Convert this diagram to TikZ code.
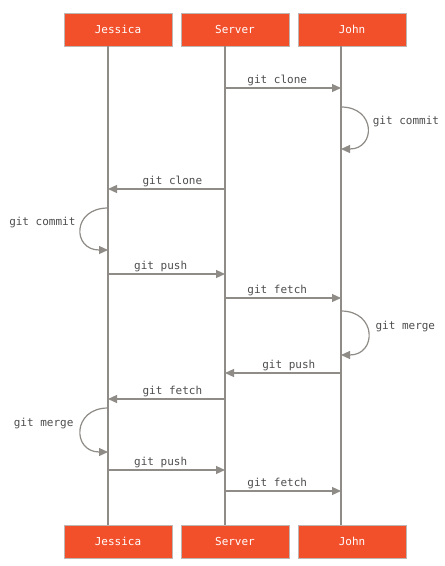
\documentclass[tikz,border=0pt]{standalone}
\usepackage{fontspec}
\setmonofont{DejaVu Sans Mono}
\usetikzlibrary{arrows.meta,positioning}
\definecolor{GitRed}{HTML}{F24F2B}
\definecolor{LineGray}{HTML}{8F8B86}
\definecolor{LabelGray}{HTML}{4D4D4D}
\definecolor{EdgeGray}{HTML}{BDB6B2}

\begin{document}
\begin{tikzpicture}[
    x=1pt, y=-1pt,
    actor/.style={fill=GitRed, draw=EdgeGray, line width=0.6pt, text=white,
                  minimum width=108pt, minimum height=33pt, inner sep=0pt,
                  font=\ttfamily\fontsize{11}{13}\selectfont},
    life/.style={draw=LineGray, line width=1.2pt},
    msg/.style={draw=LineGray, line width=1.2pt, -{Triangle[length=9pt,width=8pt]}},
    lbl/.style={text=LabelGray, font=\ttfamily\fontsize{11}{13}\selectfont, inner sep=2pt}
  ]
    \useasboundingbox (0,0) rectangle (445,566);

    % actors, top and bottom
    \node[actor] (jt) at (118,29.5)  {Jessica};
    \node[actor] (st) at (235,29.5)  {Server};
    \node[actor] (ot) at (352,29.5)  {John};
    \node[actor] (jb) at (118,541.5) {Jessica};
    \node[actor] (sb) at (235,541.5) {Server};
    \node[actor] (ob) at (352,541.5) {John};

    % lifelines sit a little left of the box centres
    \coordinate (j) at ([xshift=-10pt]jt.south);
    \coordinate (s) at ([xshift=-10pt]st.south);
    \coordinate (o) at ([xshift=-11pt]ot.south);
    \draw[life] (j) -- (j |- jb.north);
    \draw[life] (s) -- (s |- sb.north);
    \draw[life] (o) -- (o |- ob.north);

    % messages
    \draw[msg] (s |- 0,88)  -- node[lbl, pos=0.45, above] {git clone} (o |- 0,88);
    \draw[msg] (o |- 0,107) .. controls +(35,0) and +(35,0) .. node[lbl, pos=0.4, right=4pt] {git commit} (o |- 0,149);
    \draw[msg] (s |- 0,189) -- node[lbl, pos=0.45, above] {git clone} (j |- 0,189);
    \draw[msg] (j |- 0,208) .. controls +(-36,0) and +(-36,0) .. node[lbl, pos=0.4, left=4pt] {git commit} (j |- 0,250);
    \draw[msg] (j |- 0,274) -- node[lbl, pos=0.45, above] {git push} (s |- 0,274);
    \draw[msg] (s |- 0,298) -- node[lbl, pos=0.45, above] {git fetch} (o |- 0,298);
    \draw[msg] (o |- 0,311) .. controls +(36,0) and +(36,0) .. node[lbl, pos=0.4, right=6pt] {git merge} (o |- 0,355);
    \draw[msg] (o |- 0,373) -- node[lbl, pos=0.45, above] {git push} (s |- 0,373);
    \draw[msg] (s |- 0,399) -- node[lbl, pos=0.45, above] {git fetch} (j |- 0,399);
    \draw[msg] (j |- 0,408) .. controls +(-36,0) and +(-36,0) .. node[lbl, pos=0.4, left=6pt] {git merge} (j |- 0,452);
    \draw[msg] (j |- 0,470) -- node[lbl, pos=0.45, above] {git push} (s |- 0,470);
    \draw[msg] (s |- 0,491) -- node[lbl, pos=0.45, above] {git fetch} (o |- 0,491);
  \end{tikzpicture}
\end{document}
